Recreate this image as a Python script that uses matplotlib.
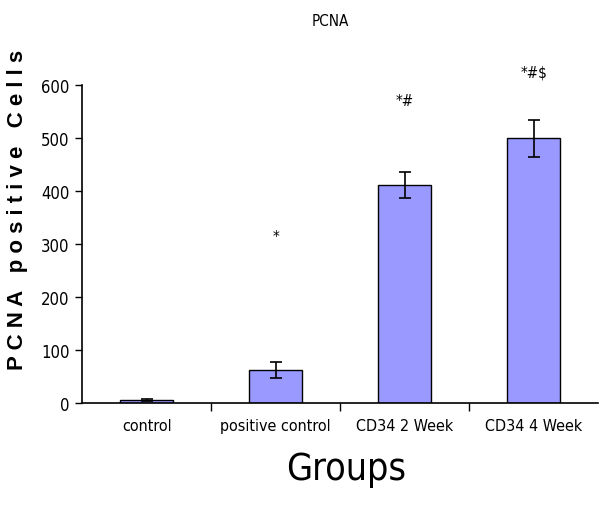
import matplotlib
matplotlib.use('Agg')
import matplotlib.pyplot as plt
import numpy as np

# data
groups = ['control', 'positive control', 'CD34 2 Week', 'CD34 4 Week']
means = [5, 62, 412, 500]
errors = [2, 15, 25, 35]
marks = ['', '*', '*#', '*#$']
mark_y = [0, 315, 572, 625]

cond = dict(family='DejaVu Sans', fontstretch='condensed')

fig = plt.figure(figsize=(6.0, 5.1), dpi=100)
ax = fig.add_axes([0.137, 0.208, 0.860, 0.623])

x = np.arange(len(groups))
ax.bar(x, means, width=0.41, color='#9999ff', edgecolor='black', linewidth=1.0, zorder=2)
ax.errorbar(x, means, yerr=errors, fmt='none', ecolor='black', elinewidth=1.2,
            capsize=4, capthick=1.2, zorder=3)

for xi, m, my in zip(x, marks, mark_y):
    if m:
        ax.text(xi, my, m, ha='center', va='center', fontsize=11, clip_on=False, **cond)

ax.set_xlim(-0.5, 3.5)
ax.set_ylim(0, 600)
ax.set_yticks(range(0, 601, 100))
ax.set_xticks(x)
ax.set_xticklabels(groups, fontsize=11.5, **cond)
ax.set_xticks([0.5, 1.5, 2.5], minor=True)
ax.tick_params(axis='x', which='major', length=0, pad=11)
ax.tick_params(axis='x', which='minor', length=6, width=1, direction='out')
ax.tick_params(axis='y', length=5, width=1, direction='out', pad=4)
for lab in ax.get_yticklabels():
    lab.set_family('DejaVu Sans')
    lab.set_fontstretch('condensed')
    lab.set_fontsize(12)

ax.spines['top'].set_visible(False)
ax.spines['right'].set_visible(False)
ax.spines['left'].set_linewidth(1.2)
ax.spines['bottom'].set_linewidth(1.2)

fig.text(0.55, 0.957, 'PCNA', ha='center', va='center', fontsize=11, **cond)
fig.text(0.03, 0.588, 'P C N A   p o s i t i v e   C e l l s', rotation=90,
         ha='center', va='center', fontsize=16, fontweight='bold',
         family=['Liberation Sans', 'DejaVu Sans'])
fig.text(0.577, 0.078, 'Groups', ha='center', va='center', fontsize=27, **cond)

fig.savefig('out.png', dpi=100)
